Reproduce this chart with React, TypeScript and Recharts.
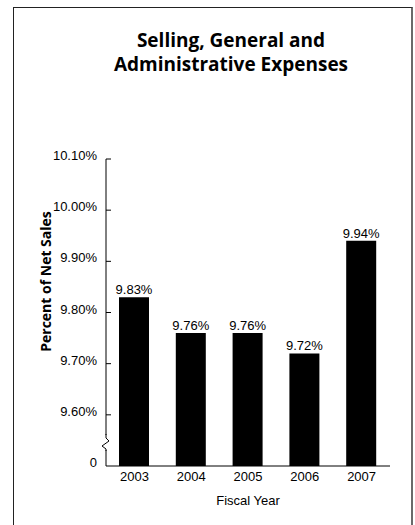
import { BarChart, Bar, XAxis, YAxis, LabelList } from 'recharts'

const years = ['2003', '2004', '2005', '2006', '2007']
const sgaPercent = [9.83, 9.76, 9.76, 9.72, 9.94]
const yTicks = [9.5, 9.6, 9.7, 9.8, 9.9, 10.0, 10.1]
const titleLines = ['Selling, General and', 'Administrative Expenses']

const data = years.map((year, i) => ({ year, value: sgaPercent[i] }))

const SANS = '"Liberation Sans", Arial, Helvetica, sans-serif'
const HUMANIST = '"Open Sans", "Noto Sans", sans-serif'

const fmtTick = (v: number) => (v === yTicks[0] ? '0' : `${v.toFixed(2)}%`)

// inward tick marks, plus the axis break drawn at the "0" tick
function YTick({ x, y, payload }: any) {
  const v = payload.value as number
  const isBase = v === yTicks[0]
  return (
    <g>
      {isBase ? (
        <g>
          <rect x={x - 6} y={y - 31} width={12} height={15} fill="#fff" />
          <path
            d={`M${x},${y - 32} L${x},${y - 28} L${x + 3},${y - 25} L${x - 4},${y - 20} L${x},${y - 17} L${x},${y - 15}`}
            stroke="#000"
            strokeWidth={1}
            fill="none"
          />
        </g>
      ) : (
        <line x1={x} x2={x + 5} y1={y} y2={y} stroke="#000" strokeWidth={1} />
      )}
      <text x={x - 9} y={y + 1} textAnchor="end" fontSize={13} fontFamily={SANS} fill="#000">
        {fmtTick(v)}
      </text>
    </g>
  )
}

export default function App() {
  return (
    <div style={{ position: 'absolute', left: 0, top: 0, width: 415, height: 525, background: '#fff' }}>
      <div
        style={{
          position: 'absolute',
          left: 13,
          top: 7,
          width: 397,
          height: 520,
          borderLeft: '1px solid #222',
          borderTop: '1px solid #222',
          borderRight: '2px solid #6a6a6a',
        }}
      />
      <svg width={415} height={90} style={{ position: 'absolute', left: 0, top: 0 }}>
        {titleLines.map((line, i) => (
          <text
            key={line}
            x={231}
            y={47 + i * 24}
            textAnchor="middle"
            fontFamily={HUMANIST}
            fontWeight={700}
            fontSize={19}
            fill="#000"
          >
            {line}
          </text>
        ))}
      </svg>
      <div style={{ position: 'absolute', left: 0, top: 0 }}>
        <BarChart width={415} height={525} data={data} margin={{ top: 159, right: 25, bottom: 29, left: 0 }}>
          <XAxis
            dataKey="year"
            height={30}
            axisLine={{ stroke: '#000', strokeWidth: 1 }}
            tickLine={false}
            tickSize={0}
            tickMargin={6}
            tick={{ fontSize: 13, fill: '#000', fontFamily: SANS }}
            label={{
              value: 'Fiscal Year',
              position: 'bottom',
              offset: 0,
              style: { fontSize: 13, fill: '#000', fontFamily: SANS },
            }}
          />
          <YAxis
            type="number"
            domain={[9.5, 10.1]}
            ticks={yTicks}
            interval={0}
            allowDataOverflow
            width={106}
            axisLine={{ stroke: '#000', strokeWidth: 1 }}
            tickLine={false}
            tickSize={0}
            tickMargin={0}
            tick={<YTick />}
            label={{
              value: 'Percent of Net Sales',
              angle: -90,
              position: 'center',
              dx: -7,
              dy: -31,
              style: { fontSize: 14, fontWeight: 700, fill: '#000', fontFamily: HUMANIST },
            }}
          />
          <Bar dataKey="value" fill="#000" barSize={30} isAnimationActive={false}>
            <LabelList
              dataKey="value"
              position="top"
              offset={3}
              formatter={(v: any) => `${Number(v).toFixed(2)}%`}
              style={{ fontSize: 13, fill: '#000', fontFamily: SANS }}
            />
          </Bar>
        </BarChart>
      </div>
    </div>
  )
}
